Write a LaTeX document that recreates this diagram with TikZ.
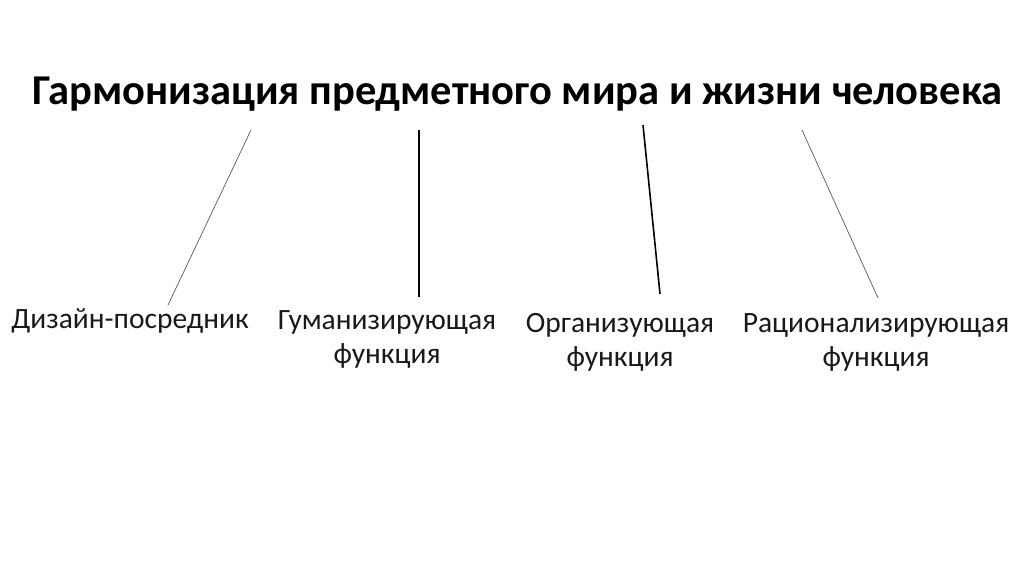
\documentclass[tikz,border=0pt]{standalone}
\usepackage{fontspec}
\setmainfont{Carlito}
\begin{document}
\begin{tikzpicture}[x=1pt,y=-1pt,
  lbl/.style={align=center,font=\fontsize{29.5}{34}\selectfont,inner sep=0pt,text=black!90,anchor=north},
  thinline/.style={draw=black!65,line width=0.7pt},
  thickline/.style={draw=black,line width=1.6pt}]
\useasboundingbox (0,0) rectangle (1024,574);
\node[font=\bfseries\fontsize{42.5}{50}\selectfont,inner sep=0pt,anchor=base] (title) at (517.5,104) {Гармонизация предметного мира и жизни человека};
\node[lbl] (d) at (130,308) {Дизайн-посредник};
\node[lbl] (g) at (387,310) {Гуманизирующая\\функция};
\node[lbl] (o) at (620,313) {Организующая\\функция};
\node[lbl] (r) at (876,313) {Рационализирующая\\функция};
\coordinate (t1) at (251,130); \coordinate (e1) at (168,305);
\coordinate (t2) at (419,130); \coordinate (e2) at (419,297);
\coordinate (t3) at (643,125); \coordinate (e3) at (660,294);
\coordinate (t4) at (802,130); \coordinate (e4) at (878,298);
\draw[thinline] (t1) -- (e1);
\draw[thickline] (t2) -- (e2);
\draw[thickline] (t3) -- (e3);
\draw[thinline] (t4) -- (e4);
\end{tikzpicture}
\end{document}
